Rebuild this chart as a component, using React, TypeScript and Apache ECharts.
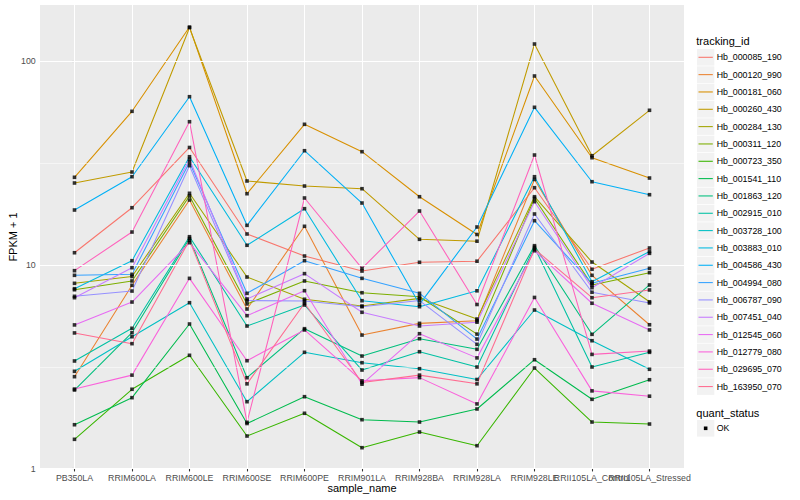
import React, { useEffect, useRef } from "react";
import * as echarts from "echarts";

const sampleNames = [
  "PB350LA", "RRIM600LA", "RRIM600LE", "RRIM600SE", "RRIM600PE", "RRIM901LA",
  "RRIM928BA", "RRIM928LA", "RRIM928LE", "RRII105LA_Control", "RRII105LA_Stressed",
];

const trackingIds = [
  "Hb_000085_190", "Hb_000120_990", "Hb_000181_060", "Hb_000260_430", "Hb_000284_130",
  "Hb_000311_120", "Hb_000723_350", "Hb_001541_110", "Hb_001863_120", "Hb_002915_010",
  "Hb_003728_100", "Hb_003883_010", "Hb_004586_430", "Hb_004994_080", "Hb_006787_090",
  "Hb_007451_040", "Hb_012545_060", "Hb_012779_080", "Hb_029695_070", "Hb_163950_070",
];

const seriesColors = [
  "#F8766D", "#EA8331", "#D89000", "#C09B00", "#A3A500", "#7CAE00", "#39B600", "#00BB4E",
  "#00BF7D", "#00C1A3", "#00BFC4", "#00BAE0", "#00B0F6", "#35A2FF", "#9590FF", "#C77CFF",
  "#E76BF3", "#FA62DB", "#FF62BC", "#FF6C91",
];

// FPKM + 1 per sample, in sampleNames order
const Hb_000085_190 = [11.49, 19.11, 37.75, 14.2, 11.07, 9.34, 10.31, 10.44, 23.96, 9.53, 12.12];
const Hb_000120_990 = [2.83, 7.95, 20.85, 6.08, 15.49, 4.53, 5.17, 5.33, 26.29, 8.9, 5.09];
const Hb_000181_060 = [26.95, 56.82, 147.3, 22.39, 49.06, 36.0, 21.64, 14.12, 84.7, 33.63, 26.73];
const Hb_000260_430 = [25.27, 28.61, 146.2, 25.85, 24.42, 23.69, 13.37, 13.09, 121.6, 34.4, 57.48];
const Hb_000284_130 = [8.13, 8.78, 22.49, 8.73, 6.79, 6.29, 6.86, 5.43, 21.64, 10.34, 6.6];
const Hb_000311_120 = [7.56, 8.35, 21.81, 6.44, 8.35, 7.31, 6.99, 4.58, 21.26, 7.98, 9.17];
const Hb_000723_350 = [1.394, 2.454, 3.603, 1.447, 1.871, 1.268, 1.514, 1.297, 3.121, 1.695, 1.657];
const Hb_001541_110 = [1.644, 2.232, 5.133, 1.667, 2.257, 1.74, 1.695, 1.964, 3.428, 2.191, 2.734];
const Hb_001863_120 = [2.434, 4.652, 13.49, 2.797, 4.868, 3.574, 4.346, 3.856, 12.44, 4.568, 7.98];
const Hb_002915_010 = [3.379, 4.89, 13.77, 5.018, 6.363, 3.051, 3.752, 3.157, 12.22, 3.157, 3.727];
const Hb_003728_100 = [3.007, 4.446, 6.53, 2.133, 3.727, 3.314, 3.097, 2.741, 6.013, 4.249, 3.076];
const Hb_003883_010 = [7.65, 10.5, 34.01, 12.5, 18.9, 6.679, 6.242, 7.469, 27.13, 8.28, 11.65];
const Hb_004586_430 = [18.62, 27.13, 67.03, 15.66, 36.4, 20.15, 6.413, 15.37, 59.46, 25.64, 22.14];
const Hb_004994_080 = [8.9, 9.0, 31.93, 7.26, 10.5, 8.6, 7.26, 4.33, 16.5, 8.13, 9.63];
const Hb_006787_090 = [7.02, 7.45, 30.73, 6.69, 6.66, 6.24, 6.69, 4.08, 17.8, 7.35, 6.51];
const Hb_007451_040 = [6.91, 9.7, 33.03, 6.81, 9.07, 5.86, 5.02, 5.24, 20.46, 7.74, 11.41];
const Hb_012545_060 = [5.08, 6.58, 12.87, 5.64, 7.48, 2.6, 4.6, 3.5, 11.75, 6.49, 4.8];
const Hb_012779_080 = [2.46, 2.88, 8.6, 3.39, 4.8, 2.7, 2.8, 2.08, 6.93, 2.41, 2.27];
const Hb_029695_070 = [9.38, 14.52, 50.52, 1.69, 21.33, 9.63, 18.41, 6.4, 34.67, 3.64, 3.78];
const Hb_163950_070 = [4.64, 4.11, 13.22, 2.61, 6.49, 2.65, 2.88, 2.61, 11.98, 6.91, 7.54];

const fpkmSeries = [
  Hb_000085_190, Hb_000120_990, Hb_000181_060, Hb_000260_430, Hb_000284_130,
  Hb_000311_120, Hb_000723_350, Hb_001541_110, Hb_001863_120, Hb_002915_010,
  Hb_003728_100, Hb_003883_010, Hb_004586_430, Hb_004994_080, Hb_006787_090,
  Hb_007451_040, Hb_012545_060, Hb_012779_080, Hb_029695_070, Hb_163950_070,
];

const yMajorBreaks = [1, 10, 100];
const yMinorBreaks = [3.1623, 31.623];
const yLimits = [1, 189];
const quantStatus = ["OK"];

const FONT = "'Liberation Sans', Arial, Helvetica, sans-serif";

export default function App() {
  const ref = useRef<HTMLDivElement>(null);

  useEffect(() => {
    const chart = echarts.init(ref.current!, null, { renderer: "svg" });
    const lg = (v: number) => Math.log10(v);
    const catIdx = sampleNames.map((_, i) => i);

    const gridLines: any[] = [];
    catIdx.forEach((i) =>
      gridLines.push({ xAxis: i, lineStyle: { color: "#FFFFFF", width: 1.07, type: "solid" } })
    );
    yMajorBreaks.forEach((v) =>
      gridLines.push({ yAxis: lg(v), lineStyle: { color: "#FFFFFF", width: 1.07, type: "solid" } })
    );
    yMinorBreaks.forEach((v) =>
      gridLines.push({ yAxis: lg(v), lineStyle: { color: "#FFFFFF", width: 0.53, type: "solid" } })
    );

    const lineSeries = fpkmSeries.map((vals, i) => ({
      type: "line",
      name: trackingIds[i],
      data: vals.map((v, j) => [j, lg(v)]),
      showSymbol: false,
      symbol: "none",
      silent: true,
      z: 3,
      lineStyle: { color: seriesColors[i], width: 1.07 },
      itemStyle: { color: seriesColors[i] },
    }));

    const pointData: number[][] = [];
    fpkmSeries.forEach((vals) => vals.forEach((v, j) => pointData.push([j, lg(v)])));

    const keyX = 697;
    const keyW = 17.3;
    const step = 17.33;
    const firstY = 57.3;
    const legendChildren: any[] = [
      {
        type: "text",
        x: 696.3,
        y: 40.7,
        style: { text: "tracking_id", fontSize: 11, fontFamily: FONT, fill: "#000000", verticalAlign: "middle" },
      },
    ];
    trackingIds.forEach((id, i) => {
      const cy = firstY + i * step;
      legendChildren.push({
        type: "rect",
        shape: { x: keyX, y: cy - 8.3, width: keyW, height: 16.6 },
        style: { fill: "#F2F2F2" },
      });
      legendChildren.push({
        type: "line",
        shape: { x1: keyX + 1.5, y1: cy, x2: keyX + keyW - 1.5, y2: cy },
        style: { stroke: seriesColors[i], lineWidth: 1.07 },
      });
      legendChildren.push({
        type: "text",
        x: 716.7,
        y: cy,
        style: { text: id, fontSize: 8.8, fontFamily: FONT, fill: "#000000", verticalAlign: "middle" },
      });
    });
    const qY = 412.7;
    legendChildren.push({
      type: "text",
      x: 696.3,
      y: qY,
      style: { text: "quant_status", fontSize: 11, fontFamily: FONT, fill: "#000000", verticalAlign: "middle" },
    });
    quantStatus.forEach((q, i) => {
      const cy = qY + 15.6 + i * step;
      legendChildren.push({
        type: "rect",
        shape: { x: keyX, y: cy - 8.3, width: keyW, height: 16.6 },
        style: { fill: "#F2F2F2" },
      });
      legendChildren.push({
        type: "rect",
        shape: { x: keyX + keyW / 2 - 1.8, y: cy - 1.8, width: 3.6, height: 3.6 },
        style: { fill: "#000000" },
      });
      legendChildren.push({
        type: "text",
        x: 716.7,
        y: cy,
        style: { text: q, fontSize: 8.8, fontFamily: FONT, fill: "#000000", verticalAlign: "middle" },
      });
    });

    const baseGraphic: any[] = [
      {
        type: "text",
        x: 362,
        y: 488,
        style: { text: "sample_name", fontSize: 11, fontFamily: FONT, fill: "#000000", align: "center", verticalAlign: "middle" },
      },
      {
        type: "text",
        x: 13,
        y: 237,
        rotation: Math.PI / 2,
        style: { text: "FPKM + 1", fontSize: 11, fontFamily: FONT, fill: "#000000", align: "center", verticalAlign: "middle" },
      },
      { type: "group", children: legendChildren },
    ];

    const option: any = {
      animation: false,
      backgroundColor: "#FFFFFF",
      textStyle: { fontFamily: FONT },
      grid: {
        left: 40,
        right: 116,
        top: 5,
        bottom: 31.3,
        show: true,
        backgroundColor: "#EBEBEB",
        borderWidth: 0,
        containLabel: false,
      },
      xAxis: {
        type: "value",
        min: -0.6,
        max: sampleNames.length - 1 + 0.6,
        axisLine: { show: false },
        splitLine: { show: false },
        axisTick: {
          show: true,
          customValues: catIdx,
          length: 2.75,
          lineStyle: { color: "#333333", width: 1.07 },
        },
        axisLabel: { show: false },
      },
      yAxis: {
        type: "value",
        min: lg(yLimits[0]),
        max: lg(yLimits[1]),
        axisLine: { show: false },
        splitLine: { show: false },
        axisTick: {
          show: true,
          customValues: yMajorBreaks.map(lg),
          length: 2.75,
          lineStyle: { color: "#333333", width: 1.07 },
        },
        axisLabel: {
          show: true,
          customValues: yMajorBreaks.map(lg),
          formatter: (v: number) => String(Math.round(Math.pow(10, v))),
          fontSize: 8.8,
          color: "#4D4D4D",
          margin: 4.3,
          showMinLabel: true,
          showMaxLabel: true,
        },
      },
      series: [
        {
          type: "line",
          data: [],
          silent: true,
          z: 1,
          markLine: {
            silent: true,
            symbol: ["none", "none"],
            label: { show: false },
            animation: false,
            data: gridLines,
          },
        },
        ...lineSeries,
        {
          type: "scatter",
          data: pointData,
          symbol: "rect",
          symbolSize: 3.6,
          silent: true,
          z: 5,
          itemStyle: { color: "#000000" },
        },
      ],
      graphic: baseGraphic,
    };

    chart.setOption(option);

    // x tick labels: every category shown, even where they overlap (as in the reference)
    const xLabels = sampleNames.map((name, i) => {
      const p = chart.convertToPixel({ gridIndex: 0 }, [i, lg(yLimits[0])]) as number[];
      return {
        type: "text",
        x: p[0],
        y: p[1] + 9,
        style: { text: name, fontSize: 8.8, fontFamily: FONT, fill: "#4D4D4D", align: "center", verticalAlign: "middle" },
      };
    });
    chart.setOption({ graphic: [...baseGraphic, ...xLabels] });

    return () => chart.dispose();
  }, []);

  return (
    <div
      ref={ref}
      style={{ position: "fixed", left: 0, top: 0, width: 800, height: 500 }}
    />
  );
}
